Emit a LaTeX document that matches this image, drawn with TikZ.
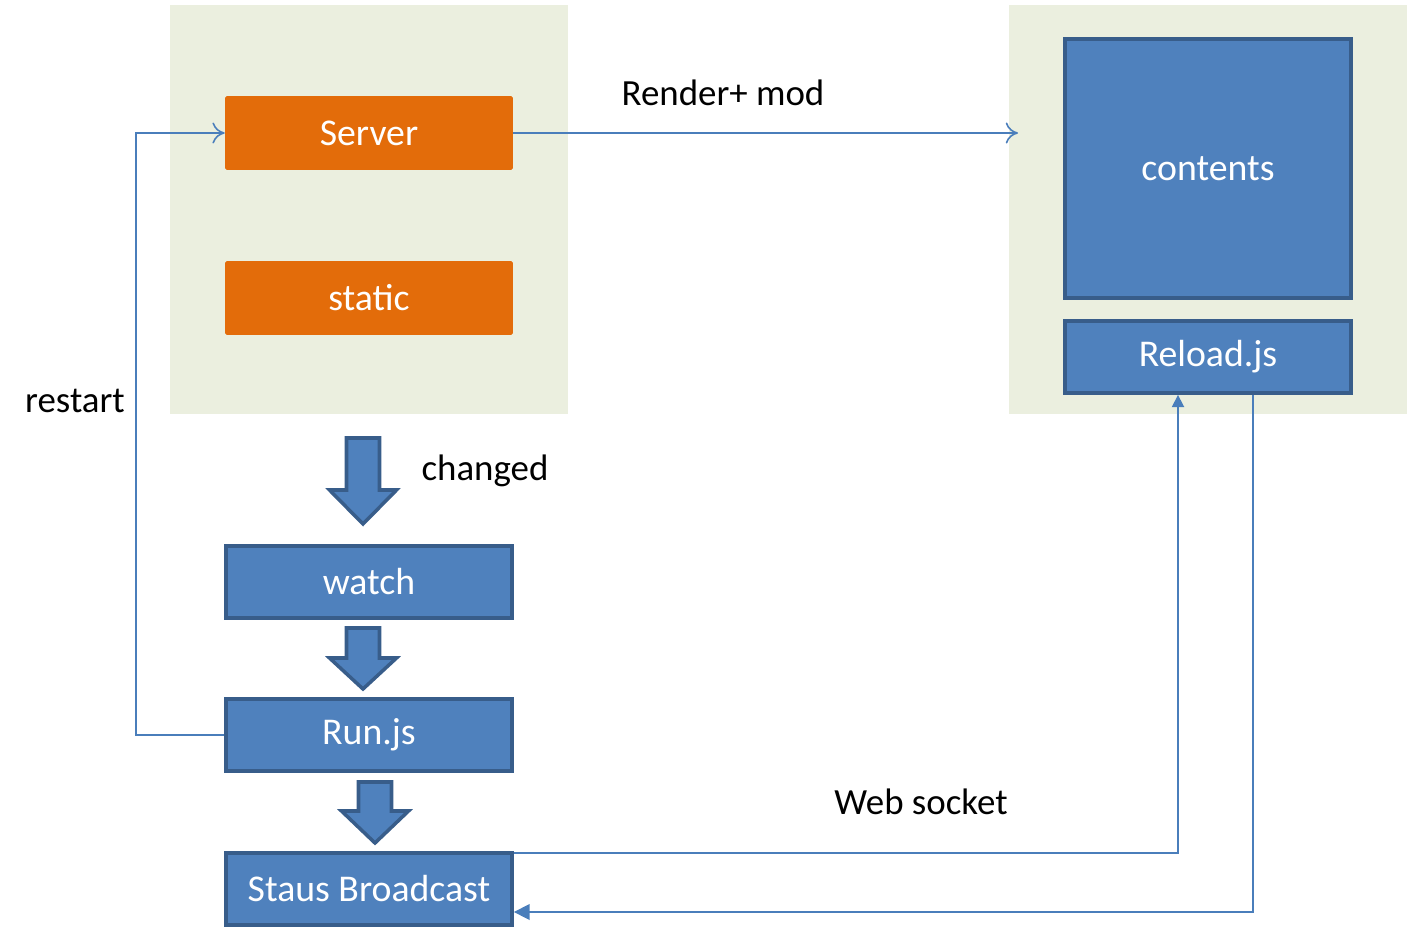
\documentclass[tikz,border=0pt]{standalone}
\usepackage{fontspec}
\setmainfont{Carlito}
\usepackage{tikz}
\usetikzlibrary{arrows.meta,positioning}
\definecolor{panelgreen}{HTML}{EBEFDF}
\definecolor{boxorange}{HTML}{E36C0A}
\definecolor{boxblue}{HTML}{4F81BD}
\definecolor{boxedge}{HTML}{385D8A}
\definecolor{linkblue}{HTML}{4A7EBB}
\tikzset{
  panel/.style={rectangle, fill=panelgreen, draw=none, inner sep=0pt},
  obox/.style={rectangle, fill=boxorange, draw=none, rounded corners=1pt, minimum width=5.76cm, minimum height=1.48cm, text=white, font=\fontsize{21.5}{25}\selectfont},
  bbox/.style={rectangle, fill=boxblue, draw=boxedge, line width=2.2pt, minimum width=5.72cm, minimum height=1.44cm, text=white, font=\fontsize{21.5}{25}\selectfont},
  lbl/.style={font=\fontsize{21}{25}\selectfont, text=black},
  link/.style={draw=linkblue, line width=0.9pt},
}
\newcommand{\dnarrow}[5]{% x, top, head start, bottom, half head
  \draw[fill=boxblue, draw=boxedge, line width=2pt, line join=miter]
    ({#1-16.5},#2) -- ({#1+16.5},#2) -- ({#1+16.5},#3) -- ({#1+#5},#3)
    -- (#1,#4) -- ({#1-#5},#3) -- ({#1-16.5},#3) -- cycle;}
\begin{document}
\begin{tikzpicture}[x=0.02cm, y=-0.02cm]
  \useasboundingbox (0,0) rectangle (1412,928);

  % panels
  \node[panel, minimum width=7.96cm, minimum height=8.18cm] (pleft) at (369,209.5) {};
  \node[panel, minimum width=7.96cm, minimum height=8.18cm] (pright) at (1208,209.5) {};

  % server side
  \node[obox] (server) at (369,133) {Server};
  \node[obox] (static) at (369,298) {static};

  % browser side
  \node[bbox, minimum height=5.18cm] (contents) at (1208,168.5) {contents};
  \node[bbox] (reload) at (1208,357) {Reload.js};

  % watch chain
  \node[bbox] (watch) at (369,582) {watch};
  \node[bbox] (runjs) at (369,735) {Run.js};
  \node[bbox] (bcast) at (369,889) {Staus Broadcast};

  \dnarrow{363}{438}{490}{524}{33.5}
  \dnarrow{363}{628}{658}{689}{33.5}
  \dnarrow{375}{782}{811}{843}{33.5}

  % labels
  \node[lbl] (lchanged) at (485,471) {changed};
  \node[lbl] (lrender) at (723,93) {Render+ mod};
  \node[lbl] (lrestart) at (75,401) {restart};
  \node[lbl] (lsocket) at (921,802) {Web socket};

  % connectors
  \coordinate (rin) at (1018,133);
  \coordinate (wsturn) at (1178,853);
  \draw[link, -{To[length=7pt, width=12pt]}] (server.east) -- (rin);
  \draw[link, -{To[length=7pt, width=12pt]}] (runjs.west) -- (136,735) -- (136,133) -- (server.west);
  \draw[link, -{Triangle[length=7pt, width=7pt]}] (bcast.east |- wsturn) -- (wsturn) -- (reload.south -| wsturn);
  \draw[link, -{Triangle[length=9pt, width=9pt]}] (reload.south -| 1253,0) -- (1253,912) -- (bcast.east |- 0,912);
\end{tikzpicture}
\end{document}
